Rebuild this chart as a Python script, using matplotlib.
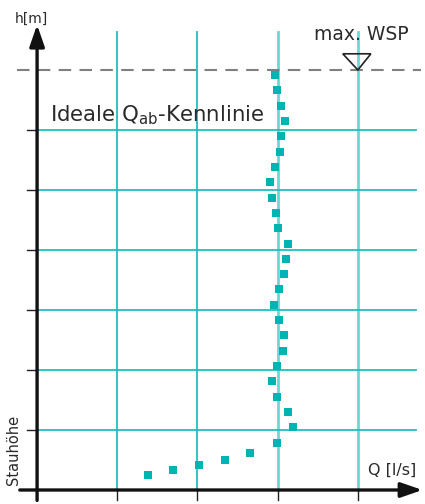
import matplotlib.pyplot as plt
from matplotlib.patches import Polygon

# Kennlinie: Abfluss Q [l/s] ueber Stauhoehe h [m]
q_vals = [1.38, 1.70, 2.02, 2.34, 2.65, 2.99, 3.19, 3.13, 2.99, 2.93,
          2.99, 3.07, 3.08, 3.02, 2.95, 3.02, 3.08, 3.10, 3.13, 3.00,
          2.98, 2.93, 2.90, 2.97, 3.03, 3.04, 3.09, 3.04, 2.99, 2.97]
h_vals = [0.25, 0.33, 0.41, 0.50, 0.61, 0.78, 1.05, 1.30, 1.55, 1.81,
          2.06, 2.31, 2.58, 2.83, 3.08, 3.35, 3.60, 3.85, 4.10, 4.37,
          4.61, 4.87, 5.13, 5.38, 5.63, 5.90, 6.15, 6.40, 6.66, 6.91]
q_grid = [1, 2, 3, 4]
h_grid = [1, 2, 3, 4, 5, 6]
h_max = 7.0

teal = '#1fbfbf'
light_teal = '#6fd6d6'
txt = '#2a2a2a'

fig = plt.figure(figsize=(4.25, 5.04), dpi=100)
ax = fig.add_axes([0, 0, 1, 1])
ax.set_xlim(-0.4625, 4.8375)
ax.set_ylim(-0.2333, 8.1667)
ax.set_axis_off()

# grid
for q in q_grid:
    c = light_teal if q >= 3 else teal
    lw = 2.0 if q >= 3 else 1.3
    ax.plot([q, q], [0, 7.63], color=c, lw=lw, zorder=1)
for h in h_grid:
    ax.plot([0, 4.725], [h, h], color=teal, lw=1.3, zorder=1)
    ax.plot([-0.12, 0], [h, h], color='#222222', lw=1.0, zorder=2)
for q in q_grid:
    ax.plot([q, q], [0, -0.17], color='#222222', lw=1.0, zorder=2)

# max. WSP
ax.plot([-0.25, 4.79], [h_max, h_max], color='#808080', lw=1.5,
        dashes=(6, 4), zorder=2)
tri = Polygon([[3.8125, 7.27], [4.1625, 7.27], [4.0, h_max]], closed=True,
              fill=False, edgecolor='#222222', lw=1.2, zorder=3)
ax.add_patch(tri)
ax.text(4.63, 7.44, 'max. WSP', fontsize=13.5, color=txt,
        ha='right', va='bottom')

# axes with arrows
ax.annotate('', xy=(0, 7.8), xytext=(0, -0.22),
            arrowprops=dict(arrowstyle='-|>,head_length=1.3,head_width=0.45',
                            color='#111111', lw=2.4), zorder=4)
ax.annotate('', xy=(4.84, 0), xytext=(-0.25, 0),
            arrowprops=dict(arrowstyle='-|>,head_length=1.3,head_width=0.45',
                            color='#111111', lw=2.4), zorder=4)

# data
ax.scatter(q_vals, h_vals, marker='s', s=27, color='#00b4b4',
           linewidths=0, zorder=5)

# labels
ax.text(-0.07, 7.79, 'h[m]', fontsize=10, color=txt,
        ha='center', va='baseline')
ax.text(4.73, 0.21, 'Q [l/s]', fontsize=11.5, color=txt,
        ha='right', va='bottom')
ax.text(-0.3, 0.08, 'Stauhöhe', fontsize=10.5, color=txt,
        rotation=90, ha='center', va='bottom')
ax.text(0.16, 6.25, r'Ideale Q$_{\mathrm{ab}}$-Kennlinie', fontsize=15.3,
        color=txt, ha='left', va='center')

fig.savefig('out.png', dpi=100)
